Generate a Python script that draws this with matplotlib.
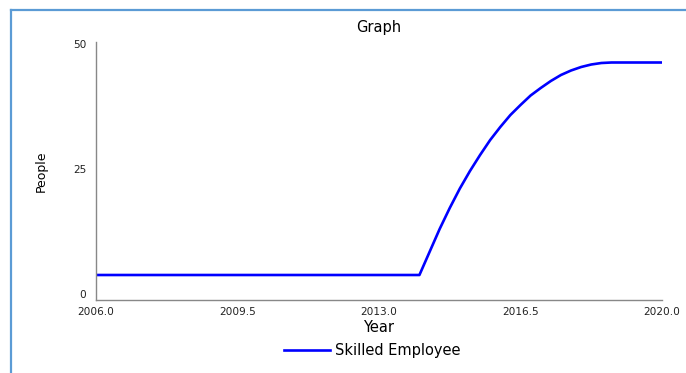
import matplotlib
matplotlib.use('Agg')
import matplotlib.pyplot as plt
from matplotlib.lines import Line2D

# Simulation output
years = [2006.0, 2014.0, 2014.25, 2014.5, 2014.75, 2015.0, 2015.25, 2015.5,
         2015.75, 2016.0, 2016.25, 2016.5, 2016.75, 2017.0, 2017.25, 2017.5,
         2017.75, 2018.0, 2018.25, 2018.5, 2018.75, 2019.0, 2020.0]
skilled_employee = [5.0, 5.0, 9.6, 14.2, 18.4, 22.3, 25.8, 29.0,
                    32.0, 34.6, 37.0, 39.0, 40.9, 42.4, 43.8, 45.0,
                    45.9, 46.6, 47.1, 47.4, 47.5, 47.5, 47.5]
x_ticks = [2006.0, 2009.5, 2013.0, 2016.5, 2020.0]
y_ticks = [0, 25, 50]

plt.rcParams['font.family'] = ['DejaVu Sans']

W, H = 686, 373
fig = plt.figure(figsize=(W / 100, H / 100), dpi=100)
ax = fig.add_axes([96 / W, 1 - 300 / H, (662 - 96) / W, (300 - 42) / H])

ax.plot(years, skilled_employee, color='#0000ff', linewidth=1.9,
        label='Skilled Employee', solid_joinstyle='round')

ax.set_xlim(2006, 2020)
ax.set_ylim(0, 51.6)
ax.set_xticks(x_ticks)
ax.set_xticklabels(['{:.1f}'.format(t) for t in x_ticks])
ax.set_yticks(y_ticks)
ax.tick_params(length=0, labelsize=7.6, colors='#222222')
ax.tick_params(axis='x', pad=5)
ax.tick_params(axis='y', pad=7)
for lab in ax.get_yticklabels():
    lab.set_verticalalignment('bottom')

for side in ['top', 'right']:
    ax.spines[side].set_visible(False)
for side in ['left', 'bottom']:
    ax.spines[side].set_color('#888888')
    ax.spines[side].set_linewidth(1.0)

ax.set_title('Graph', fontsize=10.5, pad=7)
ax.set_xlabel('Year', fontsize=10.5, labelpad=2)
ax.set_ylabel('People', fontsize=9, labelpad=18)

fig.legend(loc='center', bbox_to_anchor=(372 / W, 1 - 351 / H),
           frameon=False, fontsize=10.5, handlelength=3.2, handletextpad=0.3)

# light blue frame on the left and top edges
frame = '#5b9bd5'
fig.add_artist(Line2D([11 / W, 11 / W], [0, 1 - 10 / H], color=frame, linewidth=1.6))
fig.add_artist(Line2D([11 / W, 1], [1 - 10 / H, 1 - 10 / H], color=frame, linewidth=1.6))

fig.savefig('out.png', dpi=100)
